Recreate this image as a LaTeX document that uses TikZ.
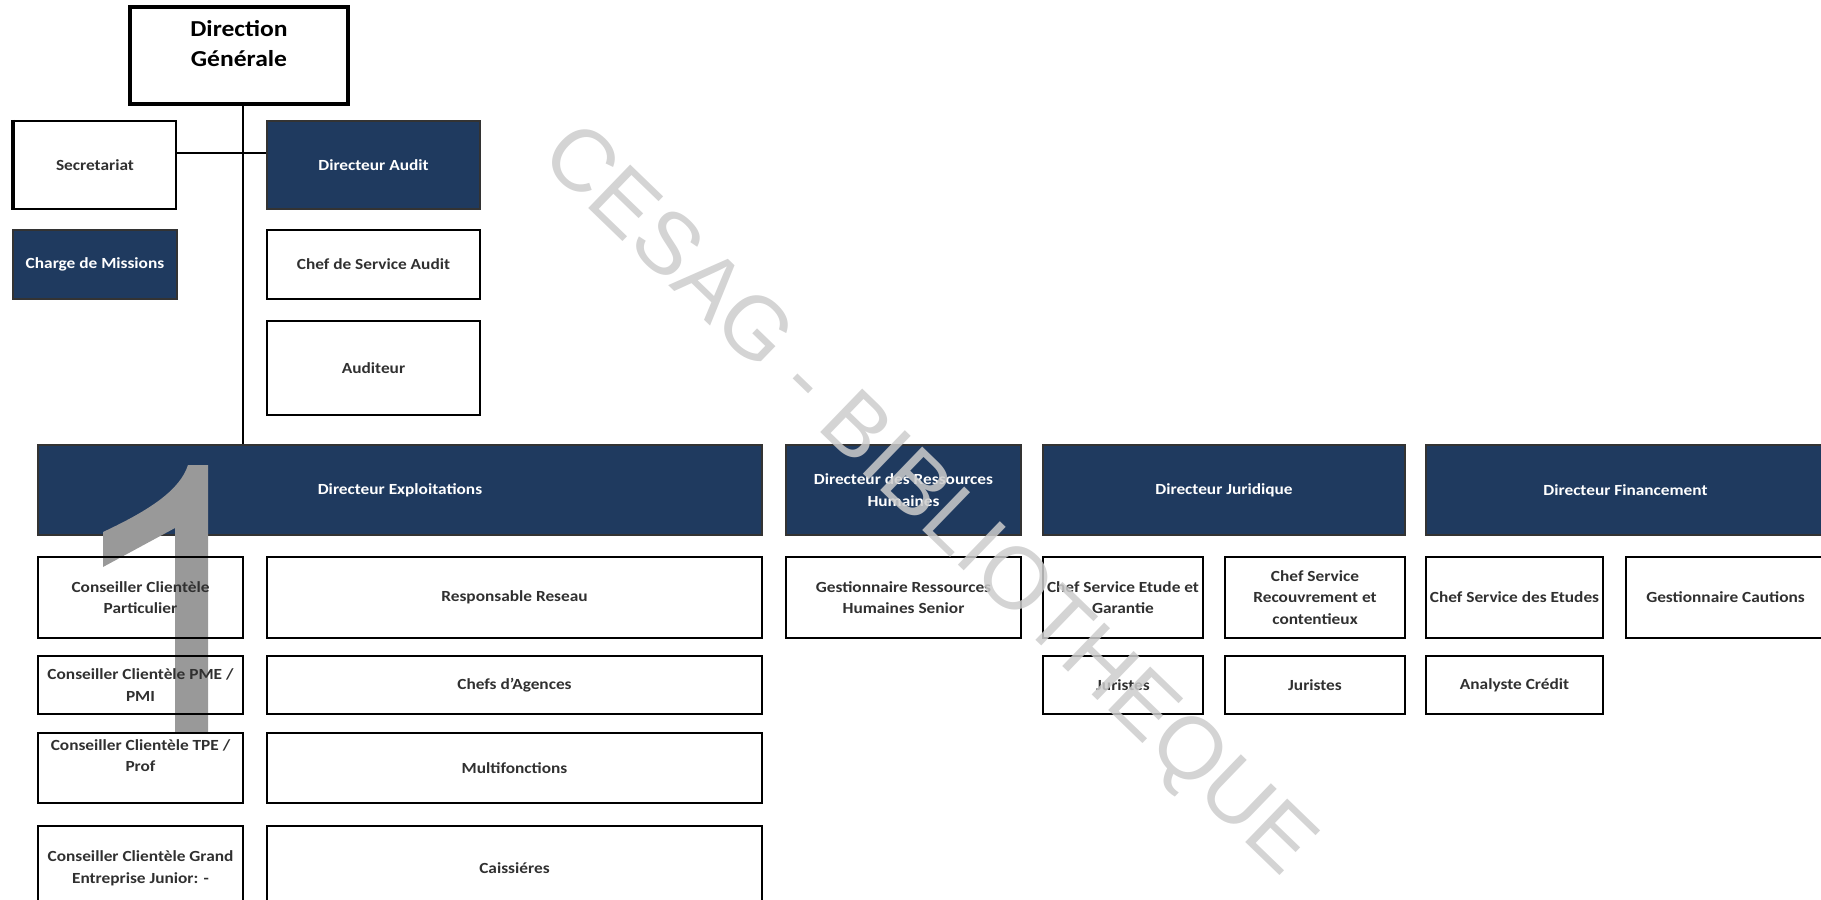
\documentclass[tikz,border=0pt]{standalone}
\usepackage{fontspec}
\setmainfont{Carlito}[FakeStretch=1.12]
\newfontfamily\wmfont{Liberation Sans}
\usepackage{tikz}
\usetikzlibrary{positioning}

\definecolor{dirblue}{HTML}{1F3A5F}
\definecolor{txtgray}{HTML}{303030}

\begin{document}
\begin{tikzpicture}[x=0.02cm,y=-0.02cm,
  box/.style={draw=black,line width=1.3pt,align=center,inner sep=2pt,
    text=txtgray,font=\bfseries\fontsize{8.8}{12.3}\selectfont},
  dir/.style={box,fill=dirblue,draw=black!80,text=white},
  head/.style={box,line width=2.3pt,text=black,font=\bfseries\fontsize{13}{17}\selectfont},
  link/.style={line width=1.1pt},
  stamp/.style={text=black!20,text opacity=0.85,font=\wmfont\fontsize{50}{50}\selectfont}]
\useasboundingbox (0,0) rectangle (1821,899);
\clip (0,0) rectangle (1821,899);

% top of the chart
\node[head,minimum width=4.36cm,minimum height=1.94cm,text depth=14pt] (dg) at (239,55.5) {Direction\\Générale};
\node[box,minimum width=3.24cm,minimum height=1.76cm] (sec) at (95,165) {Secretariat};
\node[dir,minimum width=4.26cm,minimum height=1.76cm] (daud) at (373.5,165) {Directeur Audit};
\node[dir,minimum width=3.28cm,minimum height=1.38cm] (cmis) at (95,264.5) {Charge de Missions};
\node[box,minimum width=4.26cm,minimum height=1.38cm] (csa) at (373.5,264.5) {Chef de Service Audit};
\node[box,minimum width=4.26cm,minimum height=1.88cm] (aud) at (373.5,368) {Auditeur};
\draw[line width=2.4pt] (sec.north west) -- (sec.south west);

% directors
\node[dir,minimum width=14.48cm,minimum height=1.8cm] (dexp) at (400,490) {Directeur Exploitations};
\node[dir,minimum width=4.7cm,minimum height=1.8cm] (drh) at (903.5,490) {Directeur des Ressources\\Humaines};
\node[dir,minimum width=7.24cm,minimum height=1.8cm] (djur) at (1224,490) {Directeur Juridique};
\node[dir,minimum width=7.98cm,minimum height=1.8cm] (dfin) at (1625.5,490) {Directeur Financement};

\coordinate (hub) at (243,153);
\draw[link] (dg.south -| hub) -- (dexp.north -| hub);
\draw[link] (sec.east |- hub) -- (daud.west |- hub);

% the big grey 1
\fill[black!40] (208,465) -- (208,733) -- (175,733) -- (175,528) -- (103,567) -- (103,532)
  .. controls (150,510) and (180,490) .. (188,465) -- cycle;

% exploitations
\node[box,minimum width=4.1cm,minimum height=1.62cm] (ccp) at (140.5,597.5) {Conseiller Clientèle\\Particulier};
\node[box,minimum width=9.9cm,minimum height=1.62cm] (rres) at (514.5,597.5) {Responsable Reseau};
\node[box,minimum width=4.1cm,minimum height=1.16cm] (cpme) at (140.5,685) {Conseiller Clientèle PME /\\PMI};
\node[box,minimum width=9.9cm,minimum height=1.16cm] (cage) at (514.5,685) {Chefs d'Agences};
\node[box,minimum width=4.1cm,minimum height=1.4cm,text depth=14pt] (ctpe) at (140.5,768) {Conseiller Clientèle TPE /\\Prof};
\node[box,minimum width=9.9cm,minimum height=1.4cm] (mult) at (514.5,768) {Multifonctions};
\node[box,minimum width=4.1cm,minimum height=1.68cm] (cgrand) at (140.5,868) {Conseiller Clientèle Grand\\Entreprise Junior: -};
\node[box,minimum width=9.9cm,minimum height=1.68cm] (cais) at (514.5,868) {Caissiéres};

% rh, juridique, financement
\node[box,minimum width=4.7cm,minimum height=1.62cm] (grh) at (903.5,597.5) {Gestionnaire Ressources\\Humaines Senior};
\node[box,minimum width=3.2cm,minimum height=1.62cm] (cset) at (1123,597.5) {Chef Service Etude et\\Garantie};
\node[box,minimum width=3.6cm,minimum height=1.62cm] (csrc) at (1315,597.5) {Chef Service\\Recouvrement et\\contentieux};
\node[box,minimum width=3.54cm,minimum height=1.62cm] (csde) at (1514.5,597.5) {Chef Service des Etudes};
\node[box,minimum width=3.98cm,minimum height=1.62cm] (gcau) at (1725.5,597.5) {Gestionnaire Cautions};
\node[box,minimum width=3.2cm,minimum height=1.16cm] (jur1) at (1123,685) {Juristes};
\node[box,minimum width=3.6cm,minimum height=1.16cm] (jur2) at (1315,685) {Juristes};
\node[box,minimum width=3.54cm,minimum height=1.16cm] (acr) at (1514.5,685) {Analyste Crédit};

% watermark
\node[stamp,rotate=-44] (wm) at (926,503) {CESAG - BIBLIOTHEQUE};
\end{tikzpicture}
\end{document}
